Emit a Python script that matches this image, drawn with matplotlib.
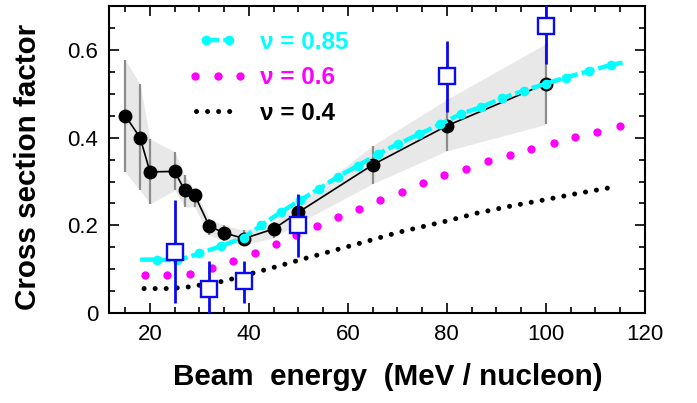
import matplotlib
matplotlib.use("Agg")
import numpy as np
import matplotlib.pyplot as plt
from matplotlib.lines import Line2D
from matplotlib.legend_handler import HandlerLine2D

plt.rcParams['font.family'] = ['Liberation Sans', 'DejaVu Sans']

# measured cross section factor (black) with its uncertainty band
meas_e = [15, 18, 20, 25, 27, 29, 32, 35, 39, 45, 50, 65, 80, 100]
meas_v = [0.45, 0.40, 0.322, 0.323, 0.28, 0.27, 0.198, 0.183, 0.17, 0.192, 0.23, 0.338, 0.427, 0.523]
meas_hi = [0.577, 0.522, 0.397, 0.368, 0.314, 0.28, 0.215, 0.20, 0.189, 0.207, 0.25, 0.382, 0.487, 0.614]
meas_lo = [0.321, 0.28, 0.249, 0.28, 0.242, 0.242, 0.177, 0.165, 0.155, 0.172, 0.205, 0.295, 0.37, 0.43]

# second data set (blue squares)
sq_e = [25, 32, 39, 50, 80, 100]
sq_v = [0.139, 0.056, 0.073, 0.20, 0.541, 0.655]
sq_hi = [0.257, 0.118, 0.118, 0.272, 0.62, 0.743]
sq_lo = [0.023, -0.02, 0.023, 0.128, 0.459, 0.567]

# calculations for nu = 0.85, 0.6, 0.4
nu85_e = [18, 21.4, 25.5, 30, 34.4, 38.9, 42.5, 46.4, 50.3, 54.1, 58, 62, 66.1, 70.2,
          74.4, 78.6, 82.8, 87, 91.2, 95.5, 100, 104, 108.8, 113.2, 115.5]
nu85_v = [0.122, 0.122, 0.12, 0.136, 0.153, 0.172, 0.2, 0.23, 0.257, 0.283, 0.311, 0.336, 0.363, 0.386,
          0.408, 0.43, 0.454, 0.47, 0.49, 0.507, 0.523, 0.537, 0.552, 0.566, 0.571]

nu60_e = [19, 23.5, 28.1, 32.5, 36.8, 41.2, 45.4, 49.6, 53.8, 58, 62.2, 66.5, 70.9, 75.2,
          79.5, 83.8, 88.3, 92.7, 97, 101.6, 106, 110.4, 115]
nu60_v = [0.086, 0.086, 0.09, 0.104, 0.118, 0.136, 0.157, 0.177, 0.199, 0.219, 0.238, 0.258, 0.277, 0.297,
          0.314, 0.329, 0.346, 0.361, 0.374, 0.388, 0.402, 0.414, 0.426]

nu40_e = [18.8, 24, 28, 35, 41.7, 46.2, 50.5, 57.2, 63.9, 70.5, 80, 86.1, 92.9, 99.6, 106.5, 113.5]
nu40_v = [0.056, 0.056, 0.06, 0.073, 0.094, 0.108, 0.122, 0.143, 0.164, 0.185, 0.21, 0.228, 0.244, 0.258, 0.273, 0.287]

CYAN = '#00ffff'
MAG = '#ff00ff'
BLUE = '#0a0af0'

fig = plt.figure(figsize=(6.97, 4.03), dpi=100)
ax = fig.add_axes([0.157, 0.223, 0.768, 0.762])

ax.fill_between(meas_e, meas_lo, meas_hi, color='#e8e8e8', lw=0, zorder=1)
lo = np.array(meas_v) - np.array(meas_lo)
hi = np.array(meas_hi) - np.array(meas_v)
ax.errorbar(meas_e, meas_v, yerr=[lo, hi], fmt='none', ecolor='#8c8c8c', elinewidth=1.6, capsize=0, zorder=2)

ax.plot(nu60_e, nu60_v, ls='none', marker='o', ms=6, color=MAG, mec='none', zorder=3)
ax.plot(nu40_e, nu40_v, color='black', lw=3.6, dashes=(0.01, 2.2), dash_capstyle='round', zorder=3)

ax.plot(meas_e, meas_v, color='black', lw=1.2, marker='o', ms=9, zorder=4)

ax.plot(nu85_e, nu85_v, color=CYAN, lw=3.2, dashes=(3.0, 0.9), marker='o', ms=7,
        mec='none', markevery=slice(1, -1), zorder=5)

sq_lo_err = np.array(sq_v) - np.array(sq_lo)
sq_hi_err = np.array(sq_hi) - np.array(sq_v)
ax.errorbar(sq_e, sq_v, yerr=[sq_lo_err, sq_hi_err], fmt='s', ms=11.5, mfc='white', mec=BLUE,
            mew=1.7, ecolor=BLUE, elinewidth=2.0, capsize=0, zorder=6)

# legend
h85 = Line2D([], [], color=CYAN, lw=3.2, dashes=(3.0, 0.9), marker='o', ms=7, mec='none')
h60 = Line2D([], [], ls='none', marker='o', ms=6, color=MAG, mec='none')
h40 = Line2D([], [], color='black', lw=3.6, dashes=(0.01, 2.2), dash_capstyle='round')
leg = ax.legend([h85, h60, h40], ['ν = 0.85', 'ν = 0.6', 'ν = 0.4'],
                handler_map={h85: HandlerLine2D(numpoints=2, marker_pad=0.7),
                             h60: HandlerLine2D(numpoints=3, marker_pad=0.25),
                             h40: HandlerLine2D(numpoints=2, marker_pad=0.3)},
                loc='upper left', bbox_to_anchor=(0.149, 0.92), frameon=False,
                borderpad=0, borderaxespad=0, handlelength=2.35, handletextpad=0.55,
                labelspacing=0.52, prop={'size': 17.5, 'weight': 'bold'})
for txt, c in zip(leg.get_texts(), [CYAN, MAG, 'black']):
    txt.set_color(c)

ax.set_xlim(11.8, 120)
ax.set_ylim(0, 0.7)
ax.set_xticks([20, 40, 60, 80, 100, 120])
ax.set_xticks(np.arange(15, 120, 5), minor=True)
ax.set_yticks([0, 0.2, 0.4, 0.6], ['0', '0.2', '0.4', '0.6'])
ax.set_yticks(np.arange(0.05, 0.7, 0.05), minor=True)
ax.tick_params(which='both', direction='in', top=True, right=True, width=1.2, labelsize=16)
ax.tick_params(which='major', length=7, pad=8)
ax.tick_params(which='minor', length=4)
for s in ax.spines.values():
    s.set_linewidth(1.5)

ax.set_xlabel('Beam  energy  (MeV / nucleon)', fontsize=21.3, fontweight='bold', labelpad=13)
ax.set_ylabel('Cross section factor', fontsize=21.3, fontweight='bold', labelpad=18)
ax.xaxis.label.set_x(0.52)
ax.yaxis.label.set_y(0.477)

fig.savefig('out.png', dpi=100)
